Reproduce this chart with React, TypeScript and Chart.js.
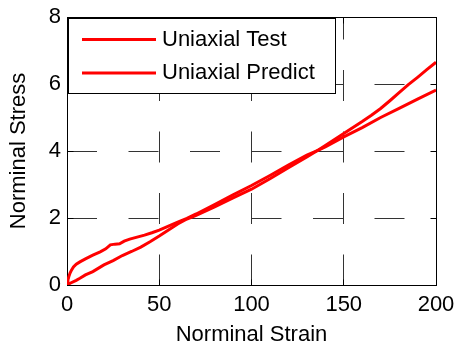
import { useEffect, useRef } from "react";
import { Chart, registerables } from "chart.js";

Chart.register(...registerables);

// ---- data ----
const seriesLabels = ["Uniaxial Test", "Uniaxial Predict"];
const seriesColors = ["#ff0000", "#ff0000"];

const testStrain = [0, 0.5, 1, 1.6, 2.5, 3.5, 5, 7, 10, 14, 18, 21, 23.5, 26, 28.5, 31, 34, 38, 42, 46, 50, 55, 60, 65, 70, 80, 90, 100, 110, 120, 130, 136, 140, 150, 160, 170, 180, 190, 200];
const testStress = [0, 0.15, 0.25, 0.35, 0.45, 0.54, 0.62, 0.69, 0.78, 0.89, 0.99, 1.08, 1.2, 1.22, 1.23, 1.31, 1.37, 1.43, 1.49, 1.56, 1.64, 1.76, 1.88, 1.99, 2.12, 2.4, 2.69, 2.97, 3.27, 3.58, 3.88, 4.02, 4.12, 4.42, 4.7, 5.0, 5.27, 5.55, 5.82];

const predictStrain = [0, 2, 5, 7, 10, 14, 20, 25, 30, 35, 40, 45, 50, 55, 60, 65, 70, 80, 90, 100, 110, 120, 130, 136, 140, 150, 160, 165, 170, 175, 180, 185, 190, 195, 200];
const predictStress = [0, 0.06, 0.14, 0.2, 0.3, 0.4, 0.6, 0.73, 0.88, 1.0, 1.13, 1.29, 1.46, 1.64, 1.82, 1.97, 2.08, 2.33, 2.6, 2.86, 3.17, 3.5, 3.82, 4.02, 4.16, 4.52, 4.88, 5.07, 5.27, 5.5, 5.74, 5.98, 6.2, 6.43, 6.65];

const xTickValues = [0, 50, 100, 150, 200];
const yTickValues = [0, 2, 4, 6, 8];
const xTitle = "Norminal Strain";
const yTitle = "Norminal Stress";

const FONT = 'Arial, "Liberation Sans", sans-serif';

const toPoints = (xs: number[], ys: number[]) => xs.map((x, i) => ({ x, y: ys[i] }));

const align = (v: number) => Math.round(v - 0.5) + 0.5;

const framePlugin = {
  id: "matlabFrame",
  beforeDatasetsDraw(chart: any) {
    const { ctx, chartArea: a, scales } = chart;
    const L = align(a.left), R = align(a.right), T = align(a.top), B = align(a.bottom);
    ctx.save();
    ctx.setLineDash([]);
    ctx.strokeStyle = "#000";
    ctx.lineWidth = 1;
    ctx.beginPath();
    const tl = 6;
    xTickValues.forEach((v) => {
      const px = align(scales.x.getPixelForValue(v));
      ctx.moveTo(px, B); ctx.lineTo(px, B - tl);
      ctx.moveTo(px, T); ctx.lineTo(px, T + tl);
    });
    yTickValues.forEach((v) => {
      const py = align(scales.y.getPixelForValue(v));
      ctx.moveTo(L, py); ctx.lineTo(L + tl, py);
      ctx.moveTo(R, py); ctx.lineTo(R - tl, py);
    });
    ctx.stroke();
    ctx.strokeRect(L, T, R - L, B - T);
    ctx.restore();
  },
  afterDraw(chart: any) {
    const { ctx, chartArea: a } = chart;
    const bx = align(a.left + 1), by = align(a.top + 1.5);
    const bw = 267, bh = 75;
    ctx.save();
    ctx.setLineDash([]);
    ctx.fillStyle = "#fff";
    ctx.fillRect(bx, by, bw, bh);
    ctx.strokeStyle = "#000";
    ctx.lineWidth = 1;
    ctx.strokeRect(bx, by, bw, bh);
    ctx.font = `22px ${FONT}`;
    ctx.textBaseline = "middle";
    ctx.textAlign = "left";
    chart.data.datasets.forEach((ds: any, i: number) => {
      const cy = by + 21 + i * 33.5;
      ctx.strokeStyle = ds.borderColor;
      ctx.lineWidth = 3;
      ctx.beginPath();
      ctx.moveTo(bx + 13.5, cy);
      ctx.lineTo(bx + 87.5, cy);
      ctx.stroke();
      ctx.fillStyle = "#000";
      ctx.fillText(ds.label, bx + 93.5, cy);
    });
    ctx.restore();
  },
};

export default function App() {
  const ref = useRef<HTMLCanvasElement | null>(null);

  useEffect(() => {
    if (!ref.current) return;
    const chart = new Chart(ref.current, {
      type: "line",
      data: {
        datasets: [
          {
            label: seriesLabels[0],
            data: toPoints(testStrain, testStress),
            borderColor: seriesColors[0],
            backgroundColor: seriesColors[0],
            borderWidth: 3,
            pointRadius: 0,
            tension: 0,
            fill: false,
          },
          {
            label: seriesLabels[1],
            data: toPoints(predictStrain, predictStress),
            borderColor: seriesColors[1],
            backgroundColor: seriesColors[1],
            borderWidth: 3,
            pointRadius: 0,
            tension: 0,
            fill: false,
          },
        ],
      },
      options: {
        animation: false,
        responsive: false,
        maintainAspectRatio: false,
        devicePixelRatio: 1,
        layout: { padding: { left: 0, top: 17, right: 19, bottom: 0 } },
        plugins: { legend: { display: false }, tooltip: { enabled: false } },
        scales: {
          x: {
            type: "linear",
            min: 0,
            max: 200,
            afterBuildTicks: (s: any) => {
              s.ticks = xTickValues.map((value) => ({ value }));
            },
            afterFit: (s: any) => {
              s.height = 62;
              s.paddingLeft = 0;
              s.paddingRight = 0;
            },
            ticks: {
              color: "#000",
              padding: 7,
              maxRotation: 0,
              font: { family: FONT, size: 22 },
            },
            grid: {
              color: "#333",
              lineWidth: 1,
              drawTicks: false,
              borderDash: [31, 30.5],
              borderDashOffset: 8.5,
            },
            border: { display: false, dash: [31, 30.5], dashOffset: 8.5 },
            title: {
              display: true,
              text: xTitle,
              color: "#000",
              font: { family: FONT, size: 22, lineHeight: 1 },
              padding: { top: 0, bottom: 1 },
            },
          },
          y: {
            type: "linear",
            min: 0,
            max: 8,
            afterBuildTicks: (s: any) => {
              s.ticks = yTickValues.map((value) => ({ value }));
            },
            afterFit: (s: any) => {
              s.width = 67;
              s.paddingTop = 0;
              s.paddingBottom = 0;
            },
            ticks: {
              color: "#000",
              padding: 6,
              font: { family: FONT, size: 22 },
            },
            grid: {
              color: "#333",
              lineWidth: 1,
              drawTicks: false,
              borderDash: [30, 31.5],
              borderDashOffset: 0,
            },
            border: { display: false, dash: [30, 31.5], dashOffset: 0 },
            title: {
              display: true,
              text: yTitle,
              color: "#000",
              font: { family: FONT, size: 22, lineHeight: 1 },
              padding: { top: 8, bottom: 0 },
            },
          },
        },
      },
      plugins: [framePlugin],
    } as any);
    return () => chart.destroy();
  }, []);

  return (
    <div style={{ position: "fixed", left: 0, top: 0, width: 455, height: 347, background: "#fff" }}>
      <canvas ref={ref} width={455} height={347} style={{ width: 455, height: 347, display: "block" }} />
    </div>
  );
}
